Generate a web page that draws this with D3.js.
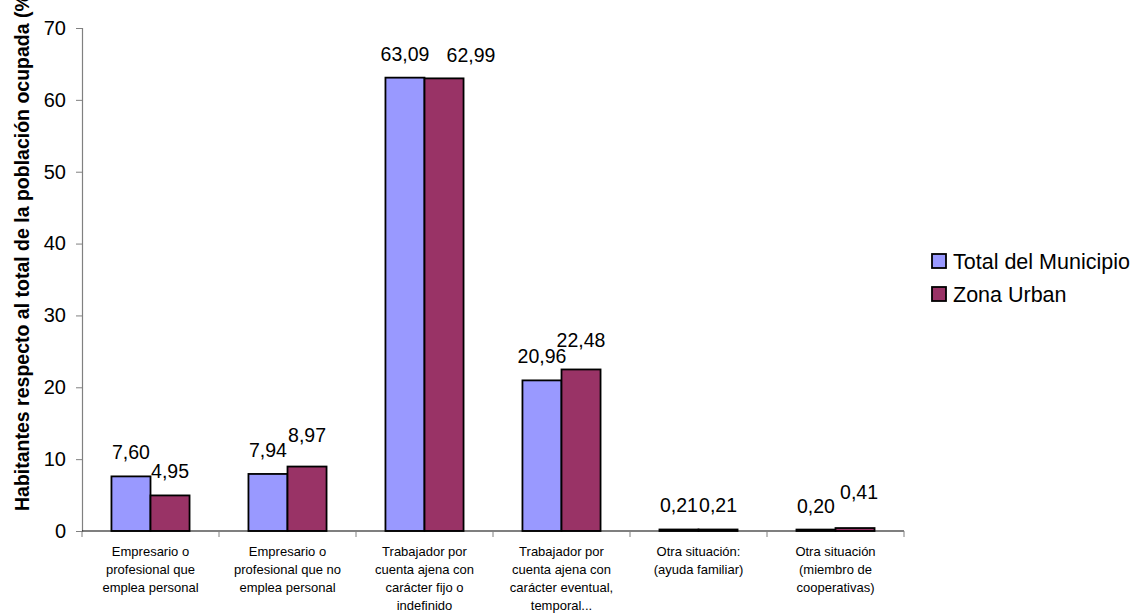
<!DOCTYPE html>
<html><head><meta charset="utf-8">
<script src="https://cdnjs.cloudflare.com/ajax/libs/d3/7.8.5/d3.min.js"></script>
<style>body{margin:0;background:#fff}svg{display:block;font-family:Arial,"Liberation Sans",sans-serif}</style>
</head><body>
<script>
const categories = [
  ["Empresario o","profesional que","emplea personal"],
  ["Empresario o","profesional que no","emplea personal"],
  ["Trabajador por","cuenta ajena con","carácter fijo o","indefinido"],
  ["Trabajador por","cuenta ajena con","carácter eventual,","temporal..."],
  ["Otra situación:","(ayuda familiar)"],
  ["Otra situación","(miembro de","cooperativas)"]
];
const seriesNames = ["Total del Municipio","Zona Urban"];
const totalMunicipio = [7.60, 7.94, 63.09, 20.96, 0.21, 0.20];
const zonaUrban = [4.95, 8.97, 62.99, 22.48, 0.21, 0.41];
const yTicks = [0,10,20,30,40,50,60,70];
const colors = ["#9999FF","#993366"];
const yTitle = "Habitantes respecto al total de la población ocupada (%)";

const W=1141,H=614;
const svg=d3.select("body").append("svg").attr("width",W).attr("height",H);
const x=d3.scaleBand().domain(d3.range(categories.length)).range([82,904]).padding(0);
const bw=x.bandwidth();
const xs=d3.scaleBand().domain([0,1]).range([bw*0.215,bw*0.785]).padding(0);
const y=d3.scaleLinear().domain([0,70]).range([531,28]);
const values=[totalMunicipio,zonaUrban];

// y axis
const ya=svg.append("g").attr("transform","translate(82,0)")
  .call(d3.axisLeft(y).tickValues(yTicks).tickSize(6).tickPadding(10).tickFormat(d3.format("d")));
ya.select(".domain").attr("stroke","#808080").attr("stroke-width",1.2);
ya.selectAll(".tick line").attr("stroke","#808080");
ya.selectAll(".tick text").attr("font-size",20).attr("fill","#000").attr("font-family","Arial,'Liberation Sans',sans-serif");

// bars
values.forEach((vals,s)=>{
  svg.append("g").selectAll("rect").data(vals).join("rect")
    .attr("x",(d,i)=>x(i)+xs(s)).attr("width",xs.bandwidth())
    .attr("y",d=>y(d)).attr("height",d=>y(0)-y(d))
    .attr("fill",colors[s]).attr("stroke","#000").attr("stroke-width",1.8);
});

// x axis
const xa=svg.append("g").attr("transform","translate(0,531)");
xa.append("line").attr("x1",82).attr("x2",904).attr("stroke","#000").attr("stroke-width",1.2);
xa.selectAll("line.t").data(d3.range(categories.length+1)).join("line").attr("class","t")
  .attr("x1",i=>82+i*bw).attr("x2",i=>82+i*bw).attr("y1",0).attr("y2",6).attr("stroke","#808080");
categories.forEach((lines,i)=>{
  const t=svg.append("text").attr("text-anchor","middle").attr("font-size",13).attr("fill","#000");
  lines.forEach((l,j)=>t.append("tspan").attr("x",x(i)+bw/2).attr("y",556+j*18).text(l));
});

// value labels (Excel-style nudges to avoid collisions on the second series)
const fmt=v=>v.toFixed(2).replace(".",",");
const nudge={ "1-1":[0,-8], "1-2":[27,1], "1-3":[0,-5], "1-5":[4,-12] };
values.forEach((vals,s)=>{
  vals.forEach((v,i)=>{
    const [dx,dy]=nudge[s+"-"+i]||[0,0];
    svg.append("text").attr("text-anchor","middle").attr("font-size",19.5)
      .attr("x",x(i)+xs(s)+xs.bandwidth()/2+dx).attr("y",y(v)-17+dy).text(fmt(v));
  });
});

// y title
svg.append("text").attr("transform","translate(29,511) rotate(-90)")
  .attr("font-size",19.5).attr("font-weight","bold").attr("text-anchor","start").text(yTitle);

// legend
seriesNames.forEach((n,s)=>{
  const g=svg.append("g").attr("transform",`translate(932,${254+s*33})`);
  g.append("rect").attr("width",14).attr("height",14).attr("fill",colors[s]).attr("stroke","#000").attr("stroke-width",1.8);
  g.append("text").attr("x",21).attr("y",15).attr("font-size",21.5).text(n);
});
</script>
</body></html>
